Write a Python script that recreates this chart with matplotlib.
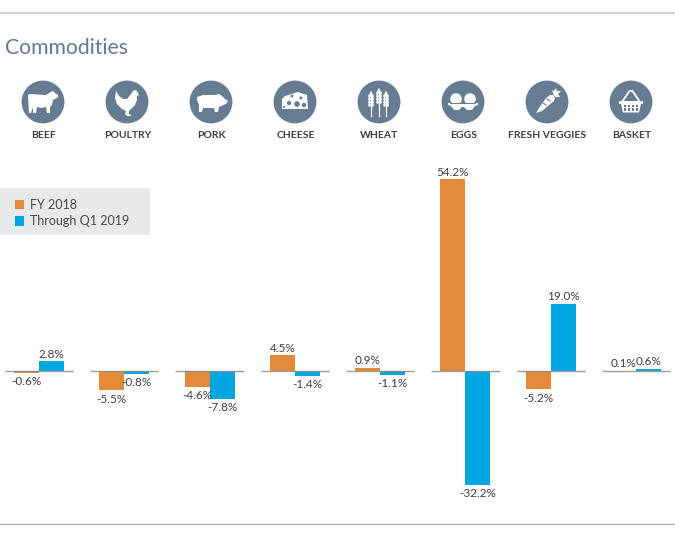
import matplotlib
matplotlib.use("Agg")
import matplotlib.pyplot as plt
from matplotlib.patches import Circle, Ellipse, Polygon, Rectangle
import numpy as np

categories = ["BEEF", "POULTRY", "PORK", "CHEESE", "WHEAT", "EGGS", "FRESH VEGGIES", "BASKET"]
fy_2018 = [-0.6, -5.5, -4.6, 4.5, 0.9, 54.2, -5.2, 0.1]
through_q1 = [2.8, -0.8, -7.8, -1.4, -1.1, -32.2, 19.0, 0.6]
series_names = ["FY 2018", "Through Q1 2019"]

W, H = 675, 538
ORANGE = "#e28a38"
BLUE = "#00a7e1"
SLATE = "#667c92"
DARK = "#3d3d3d"

plt.rcParams["font.family"] = ["Lato", "DejaVu Sans"]

fig = plt.figure(figsize=(W / 100, H / 100), dpi=100)
fig.patch.set_facecolor("white")

# pixel space for rules, icons and the legend panel
deco = fig.add_axes([0, 0, 1, 1])
deco.set_xlim(0, W)
deco.set_ylim(H, 0)
deco.axis("off")

deco.plot([0, W], [13, 13], color="#d2d2d2", lw=1.5)
deco.plot([0, W], [524, 524], color="#b4b4b4", lw=1)
deco.add_patch(Rectangle((0, 188), 150, 47, facecolor="#e8e9eb", edgecolor="none"))
deco.text(5, 48, "Commodities", fontsize=15.2, color="#5f7a94", ha="left", va="center")


def white_poly(cx, cy, pts):
    pts = np.array(pts, dtype=float) + [cx, cy]
    deco.add_patch(Polygon(pts, closed=True, facecolor="white", edgecolor="none", zorder=3))


def dark_dot(cx, cy, r):
    deco.add_patch(Circle((cx, cy), r, facecolor=SLATE, edgecolor="none", zorder=4))


def beef(cx, cy):
    white_poly(cx, cy, [(-15, -7), (-13, -8), (3, -7), (8, -10), (10, -11), (12, -9), (15, -7),
                        (15, -5), (12, -3), (10, -2), (9, 3), (7, 5), (7, 11), (4, 11), (3, 5),
                        (-2, 6), (-6, 5), (-7, 11), (-10, 11), (-10, 5), (-12, 11), (-14, 11),
                        (-14.5, 2)])


def poultry(cx, cy):
    white_poly(cx, cy, [(-11, -11), (-8, -6), (-4, -3), (0, -3), (4, -8), (6, -11), (9, -12),
                        (11, -9), (12, -7), (10, -6), (10, -2), (8, 3), (4, 7), (2, 9), (2, 12),
                        (5, 14), (0, 14), (-2, 12), (-1, 9), (-5, 7), (-10, 2), (-12, -4)])


def pork(cx, cy):
    white_poly(cx, cy, [(-14, -5), (-8, -7), (4, -7), (8, -8), (11, -6), (14, -3), (17, -1),
                        (15, 2), (10, 4), (8, 5), (7, 10), (4, 10), (3, 6), (-6, 6), (-8, 6),
                        (-9, 10), (-12, 10), (-12, 3), (-14, -2)])


def cheese(cx, cy):
    white_poly(cx, cy, [(-13, -3), (-10, -6), (3, -10), (12, -7), (13, 7), (-13, 7)])
    for dx, dy, r in [(-3, -6, 1.4), (-6, 1, 2.2), (2, 2, 2.8), (9, 3, 2.2), (6, -4, 1.5), (-11, 5, 1)]:
        dark_dot(cx + dx, cy + dy, r)


def wheat(cx, cy):
    for dx, top in [(-8, -10), (0, -13), (7, -10)]:
        deco.plot([cx + dx, cx + dx], [cy + top + 2, cy + 14], color="white", lw=0.9, zorder=3)
        deco.add_patch(Ellipse((cx + dx, cy + top + 1.5), 2.6, 4,
                               facecolor="white", edgecolor="none", zorder=3))
        for k in range(4):
            for side in (-1.5, 1.5):
                deco.add_patch(Ellipse((cx + dx + side, cy + top + 4 + k * 3), 2.6, 3.6,
                                       facecolor="white", edgecolor="none", zorder=3))


def eggs(cx, cy):
    for dx in (-7, 7):
        deco.add_patch(Ellipse((cx + dx, cy - 3), 11.5, 11.5, facecolor="white", edgecolor="none", zorder=3))
    white_poly(cx, cy, [(-15, 1), (15, 1), (15, 3), (12, 4), (9, 8), (4, 8), (1, 5), (-1, 5),
                        (-4, 8), (-9, 8), (-12, 4), (-15, 3)])
    deco.add_patch(Rectangle((cx - 13, cy + 0.5), 26, 1, facecolor=SLATE, edgecolor="none", zorder=4))


def veggies(cx, cy):
    white_poly(cx, cy, [(-11, 11), (-8, 6), (-1, -4), (3, -7), (6, -7), (8, -4), (7, -1), (2, 3), (-5, 9)])
    white_poly(cx, cy, [(7, -6), (5, -12), (7, -11), (9, -14), (10, -11), (14, -11), (11, -8), (13, -5), (9, -5)])
    deco.plot([cx - 4, cx - 1], [cy + 1, cy + 3], color=SLATE, lw=0.8, zorder=4)
    deco.plot([cx, cx + 3], [cy - 3, cy - 1], color=SLATE, lw=0.8, zorder=4)


def basket(cx, cy):
    deco.plot([cx - 9, cx - 1.5, cx + 1.5, cx + 9], [cy, cy - 11, cy - 11, cy], color="white", lw=1.3, zorder=3)
    white_poly(cx, cy, [(-12, -1), (12, -1), (12, 2), (10, 2), (8, 10.5), (-8, 10.5), (-10, 2), (-12, 2)])
    for y in (3.8, 7.4):
        for dx in (-6, -2, 2, 6):
            deco.add_patch(Rectangle((cx + dx - 1.1, cy + y - 1.1), 2.2, 2.2,
                                     facecolor=SLATE, edgecolor="none", zorder=4))


icons = [beef, poultry, pork, cheese, wheat, eggs, veggies, basket]
icon_x = np.linspace(43, 631, len(categories))
for name, fn, ix in zip(categories, icons, icon_x):
    deco.add_patch(Circle((ix, 102), 21.4, facecolor=SLATE, edgecolor="none", zorder=2))
    fn(ix, 102)
    deco.text(ix + 0.5, 135.5, name, fontsize=7.5, fontweight="bold", color=DARK, ha="center", va="center")

# bars: x in category units, y in percent
px_per_group = (636 - 39) / 7
px_per_pct = 192 / 54.2
ax = fig.add_axes([0, 0, 1, 1])
ax.patch.set_alpha(0)
ax.axis("off")
ax.set_xlim(-39 / px_per_group, (W - 39) / px_per_group)
ax.set_ylim((371 - H) / px_per_pct, 371 / px_per_pct)

x = np.arange(len(categories))
bar_w = 25 / px_per_group
b1 = ax.bar(x - bar_w / 2, fy_2018, bar_w, color=ORANGE, label=series_names[0])
b2 = ax.bar(x + bar_w / 2, through_q1, bar_w, color=BLUE, label=series_names[1])
ax.hlines(np.zeros(len(x)), x - 0.4, x + 0.4, color="#8c8c8c", lw=1, alpha=0.85, zorder=3)

for offs, vals in [(-bar_w / 2, fy_2018), (bar_w / 2, through_q1)]:
    for xi, v in zip(x, vals):
        ax.annotate(f"{v:.1f}%", (xi + offs, v), xytext=(0, 5 if v >= 0 else -6.2),
                    textcoords="offset points", ha="center", va="center",
                    fontsize=8.5, color=DARK)

leg = ax.legend(handles=[b1, b2], loc="upper left", bbox_to_anchor=(15 / W, 1 - 199 / H),
                frameon=False, fontsize=9, handlelength=0.75, handleheight=0.75,
                handletextpad=0.45, labelspacing=0.35, borderpad=0, borderaxespad=0,
                labelcolor="#4a4a4a")

fig.savefig("out.png", dpi=100)
plt.close(fig)
